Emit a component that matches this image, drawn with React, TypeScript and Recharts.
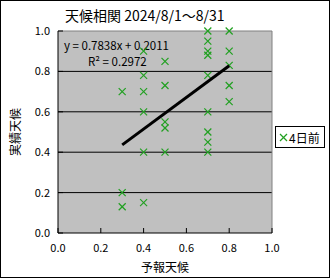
import React from 'react';
import {
  ScatterChart, Scatter, XAxis, YAxis, CartesianGrid, ReferenceLine, Legend, Customized,
} from 'recharts';

const forecastX = [
  0.3, 0.3, 0.3,
  0.4, 0.4, 0.4, 0.4, 0.4, 0.4,
  0.5, 0.5, 0.5, 0.5, 0.5,
  0.7, 0.7, 0.7, 0.7, 0.7, 0.7, 0.7, 0.7, 0.7,
  0.8, 0.8, 0.8, 0.8, 0.8,
];
const actualY = [
  0.7, 0.2, 0.13,
  0.9, 0.78, 0.7, 0.6, 0.4, 0.15,
  0.85, 0.73, 0.55, 0.52, 0.4,
  1.0, 0.95, 0.9, 0.88, 0.78, 0.6, 0.5, 0.45, 0.4,
  1.0, 0.9, 0.83, 0.73, 0.65,
];
const slope = 0.7838;
const intercept = 0.2011;
const rSquared = 0.2972;
const trendRange = [0.3, 0.8];
const axisTicks = [0, 0.2, 0.4, 0.6, 0.8, 1.0];
const gridValues = [0.2, 0.4, 0.6, 0.8];
const seriesName = '4日前';
const titleText = '天候相関 2024/8/1～8/31';
const xLabel = '予報天候';
const yLabel = '実績天候';

const points = forecastX.map((x, i) => ({ x, y: actualY[i] }));
const trend = trendRange.map((x) => ({ x, y: slope * x + intercept }));

const GREEN = '#22a022';
const FONT = "'Noto Sans CJK JP', 'Noto Sans', sans-serif";

const Cross = (props: any) => {
  const { cx, cy } = props;
  if (cx == null || cy == null) return null;
  const r = 3.5;
  return (
    <g stroke={GREEN} strokeWidth={1.2}>
      <line x1={cx - r} y1={cy - r} x2={cx + r} y2={cy + r} />
      <line x1={cx - r} y1={cy + r} x2={cx + r} y2={cy - r} />
    </g>
  );
};

const NoShape = () => null;

const XTick = (props: any) => {
  const { x, y, payload } = props;
  return (
    <g>
      <line x1={x} x2={x} y1={y - 5} y2={y} stroke="#000" />
      <text x={x} y={y + 19} textAnchor="middle" fontSize={11} fontFamily={FONT} fill="#000">
        {Number(payload.value).toFixed(1)}
      </text>
    </g>
  );
};

const YTick = (props: any) => {
  const { x, y, payload } = props;
  return (
    <g>
      <line x1={x} x2={x + 5} y1={y} y2={y} stroke="#000" />
      <text x={x - 8} y={y + 4} textAnchor="end" fontSize={11} fontFamily={FONT} fill="#000">
        {Number(payload.value).toFixed(1)}
      </text>
    </g>
  );
};

const Texts = () => (
  <g fontFamily={FONT} fill="#000">
    <text x={65} y={21} fontSize={14}>{titleText}</text>
    <text x={64} y={50} fontSize={11.5}>{`y = ${slope}x + ${intercept}`}</text>
    <text x={88} y={66} fontSize={11.5}>{`R² = ${rSquared}`}</text>
    <text x={165} y={272} fontSize={12} textAnchor="middle">{xLabel}</text>
    <text x={20} y={132} fontSize={12} textAnchor="middle" transform="rotate(-90 20 132)">{yLabel}</text>
  </g>
);

const LegendBox = () => (
  <div
    style={{
      width: 50,
      height: 22,
      border: '1px solid #000',
      background: '#fff',
      boxSizing: 'border-box',
      display: 'flex',
      alignItems: 'center',
      paddingLeft: 3,
      fontFamily: FONT,
      fontSize: 12,
      color: '#000',
    }}
  >
    <svg width={9} height={9} style={{ marginRight: 1 }}>
      <line x1={1} y1={1} x2={8} y2={8} stroke={GREEN} strokeWidth={1.2} />
      <line x1={1} y1={8} x2={8} y2={1} stroke={GREEN} strokeWidth={1.2} />
    </svg>
    <span>{seriesName}</span>
  </div>
);

export default function App() {
  return (
    <div
      style={{
        position: 'absolute',
        left: 0,
        top: 0,
        width: 330,
        height: 278,
        background: '#fff',
      }}
    >
      <ScatterChart
        width={330}
        height={278}
        margin={{ top: 31, right: 58, bottom: 0, left: 8 }}
      >
        <CartesianGrid
          fill="#c0c0c0"
          stroke="#000"
          vertical={false}
          horizontalValues={gridValues}
        />
        <XAxis
          type="number"
          dataKey="x"
          domain={[0, 1]}
          ticks={axisTicks}
          height={45}
          tickSize={0}
          tickMargin={0}
          tickLine={false}
          axisLine={{ stroke: '#000' }}
          tick={<XTick />}
          interval={0}
        />
        <YAxis
          type="number"
          dataKey="y"
          domain={[0, 1]}
          ticks={axisTicks}
          width={50}
          tickSize={0}
          tickMargin={0}
          tickLine={false}
          axisLine={{ stroke: '#000' }}
          tick={<YTick />}
          interval={0}
        />
        <ReferenceLine y={1} stroke="#808080" />
        <ReferenceLine x={1} stroke="#808080" />
        <Scatter
          name={seriesName}
          data={points}
          shape={<Cross />}
          isAnimationActive={false}
        />
        <Scatter
          name="trend"
          data={trend}
          line={{ stroke: '#000', strokeWidth: 3 }}
          shape={<NoShape />}
          legendType="none"
          isAnimationActive={false}
        />
        <Legend
          layout="vertical"
          align="center"
          verticalAlign="middle"
          wrapperStyle={{ left: 275, top: 126, width: 51, height: 22 }}
          content={() => <LegendBox />}
        />
        <Customized component={Texts} />
      </ScatterChart>
      <div
        style={{
          position: 'absolute',
          left: 0,
          top: 0,
          width: 330,
          height: 278,
          border: '1px solid #000',
          boxSizing: 'border-box',
          pointerEvents: 'none',
        }}
      />
    </div>
  );
}
